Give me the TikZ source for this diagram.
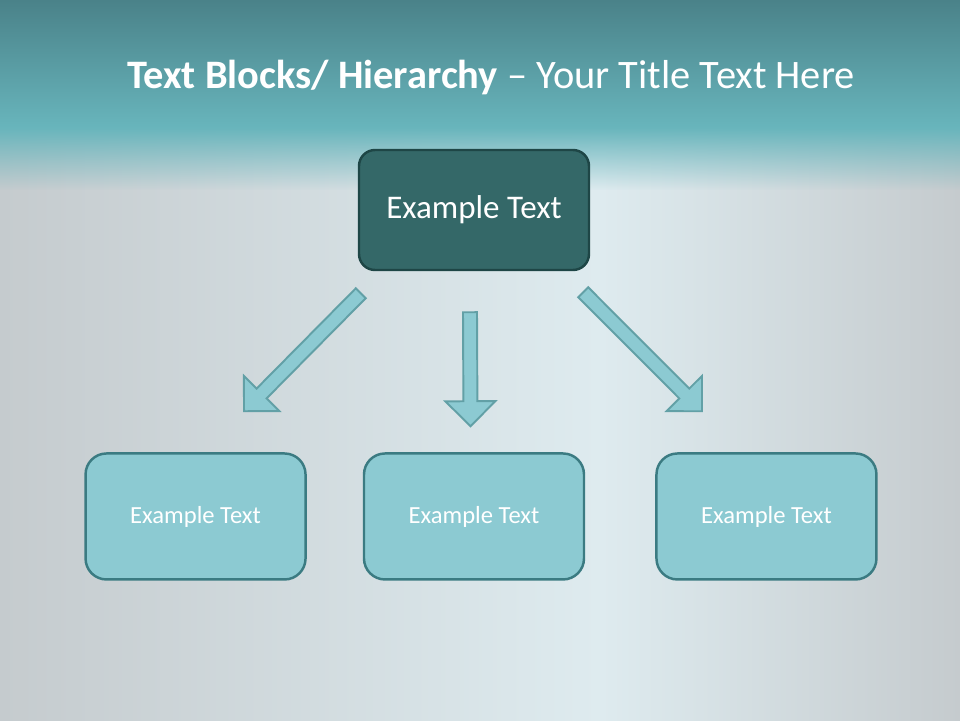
\documentclass[tikz,border=0pt]{standalone}
\usepackage{fontspec}
\usepackage{xcolor}
\setmainfont{Carlito}
\usetikzlibrary{positioning,calc,fadings}

\definecolor{bandtop}{HTML}{4A8289}
\definecolor{bandlow}{HTML}{68B5BC}
\definecolor{bgside}{HTML}{C5CBCE}
\definecolor{bglight}{HTML}{DEEBEF}
\definecolor{topfill}{HTML}{346868}
\definecolor{topline}{HTML}{1E4646}
\definecolor{boxfill}{HTML}{8CCAD2}
\definecolor{boxline}{HTML}{3B7B82}
\definecolor{arrline}{HTML}{62A0A6}

% block arrow from tail (#1) to tip (#2)
\newcommand{\blockarrow}[2]{%
  \coordinate (hb) at ($(#2)!0.5cm!(#1)$);
  \draw[blockarr] ($(#1)!0.14cm!90:(#2)$) -- ($(hb)!0.14cm!90:(#2)$)
    -- ($(hb)!0.5cm!90:(#2)$) -- (#2) -- ($(hb)!0.5cm!-90:(#2)$)
    -- ($(hb)!0.14cm!-90:(#2)$) -- ($(#1)!0.14cm!-90:(#2)$) -- cycle;}

\begin{document}
\begin{tikzpicture}[
    node distance = 3.62cm,
    topbox/.style = {draw=topline, fill=topfill, line width=1.4pt, rounded corners=0.32cm,
      minimum width=4.6cm, minimum height=2.4cm, text=white, font=\fontsize{18.8}{21}\selectfont},
    lowbox/.style = {draw=boxline, fill=boxfill, line width=1.4pt, rounded corners=0.42cm,
      minimum width=4.4cm, minimum height=2.52cm, text=white, font=\fontsize{14}{16}\selectfont},
    blockarr/.style = {draw=arrline, fill=boxfill, line width=1.1pt, line join=miter}]
    \useasboundingbox (0,0) rectangle (19.2,-14.4);
    % BACKGROUND
    \shade[left color=bgside, right color=bglight] (0,-2.5) rectangle (12,-14.4);
    \shade[left color=bglight, right color=bgside] (12,-2.5) rectangle (19.2,-14.4);
    \shade[top color=bandtop, bottom color=bandlow] (0,0) rectangle (19.2,-2.55);
    \fill[bandlow, path fading=south] (0,-2.55) rectangle (19.2,-3.8);

    % NODES
    % title
    \node (title) at (9.82,-1.55) {\fontsize{23}{27}\selectfont\color{white}\textbf{Text Blocks/ Hierarchy} -- Your Title Text Here};
    % top box
    \node[topbox] (top) at (9.48,-4.2) {Example Text};
    % lower boxes
    \node[lowbox, below = of top] (mid) {Example Text};
    \node[lowbox, left = 1.12cm of mid] (left) {Example Text};
    \node[lowbox, right = 1.40cm of mid] (right) {Example Text};

    % ARROWS
    \coordinate (lt) at ($(top.south west)+(0.06,-0.44)$);
    \coordinate (lh) at ($(left.north)+(0.97,0.82)$);
    \coordinate (mt) at ($(top.south)+(-0.08,-0.82)$);
    \coordinate (mh) at ($(mid.north)+(-0.07,0.52)$);
    \coordinate (rt) at ($(top.south east)+(-0.14,-0.42)$);
    \coordinate (rh) at ($(right.north)+(-1.29,0.82)$);
    \blockarrow{lt}{lh}
    \blockarrow{mt}{mh}
    \blockarrow{rt}{rh}
\end{tikzpicture}
\end{document}
